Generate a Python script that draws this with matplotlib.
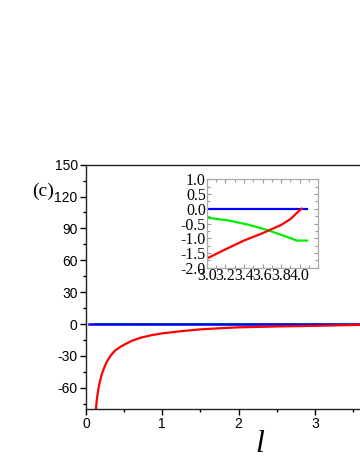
import matplotlib
matplotlib.use("Agg")
import matplotlib.pyplot as plt
from matplotlib.ticker import MultipleLocator

plt.rcParams["axes.unicode_minus"] = False

# ---- data ----
red_x = [0.125, 0.14, 0.16, 0.18, 0.20, 0.23, 0.27, 0.32, 0.38, 0.45, 0.5, 0.6,
         0.71, 0.85, 1.0, 1.25, 1.5, 1.75, 2.0, 2.5, 3.0, 3.2, 3.4, 3.6, 3.8,
         3.9, 4.0, 4.02]
red_y = [-85, -72, -62, -55, -49, -42.5, -36, -30, -25, -21.5, -19.5, -15.8,
         -13.0, -10.6, -8.8, -6.7, -5.0, -4.0, -3.1, -2.3, -1.69, -1.38, -1.08,
         -0.83, -0.55, -0.35, -0.05, 0.0]
green_x = [0.13, 1.0, 2.0, 3.0, 3.24, 3.46, 3.67, 3.86, 3.97, 4.08]
green_y = [-0.05, -0.1, -0.2, -0.30, -0.40, -0.55, -0.74, -0.95, -1.08, -1.08]
blue_x = [0.04, 4.08]
blue_y = [0.0, 0.0]

main_yticks = [-60, -30, 0, 30, 60, 90, 120, 150]
main_xticks = [0, 1, 2, 3]
inset_xticks = [3.0, 3.2, 3.4, 3.6, 3.8, 4.0]
inset_yticks = [-2.0, -1.5, -1.0, -0.5, 0.0, 0.5, 1.0]

W, H = 360, 466
fig = plt.figure(figsize=(W / 100, H / 100), dpi=100)

# main axes (extends beyond the right edge of the figure)
L, R, T, B = 86, 406.5, 164.7, 409
ax = fig.add_axes([L / W, 1 - B / H, (R - L) / W, (B - T) / H])
ax.plot(green_x, green_y, color="#00e000", lw=1.6)
ax.plot(blue_x, blue_y, color="#0000ff", lw=1.8)
ax.plot(red_x, red_y, color="#ff0000", lw=1.6)
ax.set_xlim(0, 4.2)
ax.set_ylim(-80, 150)
ax.set_xticks(main_xticks)
ax.set_yticks(main_yticks)
ax.xaxis.set_minor_locator(MultipleLocator(0.5))
ax.yaxis.set_minor_locator(MultipleLocator(15))
ax.tick_params(which="both", direction="out", top=False, right=False,
               labelsize=10, width=1.0)
ax.tick_params(which="major", length=4, pad=2)
ax.tick_params(which="minor", length=2.5)
for lab in ax.get_xticklabels() + ax.get_yticklabels():
    lab.set_family("Liberation Sans")
for s in ax.spines.values():
    s.set_linewidth(1.0)
    s.set_color("#222222")
ax.spines["right"].set_visible(False)
ax.set_xlabel("l", family="Liberation Serif", style="italic", fontsize=23,
              labelpad=0)
ax.xaxis.set_label_coords((260 - L) / (R - L), -0.085)

fig.text(43 / W, 1 - 191 / H, "(c)", family="Liberation Serif", fontsize=14,
         ha="center", va="center")

# inset
iL, iR, iT, iB = 206.7, 318.3, 179.3, 267.7
ins = fig.add_axes([iL / W, 1 - iB / H, (iR - iL) / W, (iB - iT) / H])
ins.plot(blue_x, blue_y, color="#0000ff", lw=1.6)
ins.plot(green_x, green_y, color="#00ee00", lw=1.6)
ins.plot(red_x, red_y, color="#ff0000", lw=1.6)
ins.set_xlim(3.0, 4.2)
ins.set_ylim(-2.0, 1.0)
ins.set_xticks(inset_xticks)
ins.set_yticks(inset_yticks)
ins.set_xticklabels([f"{v:.1f}" for v in inset_xticks])
ins.set_yticklabels([f"{v:.1f}" for v in inset_yticks])
ins.xaxis.set_minor_locator(MultipleLocator(0.1))
ins.yaxis.set_minor_locator(MultipleLocator(0.25))
ins.tick_params(which="both", direction="in", top=True, right=True,
                labelsize=11.5, color="#999999", width=0.8, pad=1)
ins.tick_params(which="major", length=3)
ins.tick_params(which="minor", length=2)
ins.tick_params(axis="y", pad=0.5)
ins.tick_params(axis="x", pad=0)
for lab in ins.get_xticklabels() + ins.get_yticklabels():
    lab.set_family("Liberation Serif")
for s in ins.spines.values():
    s.set_color("#aaaaaa")
    s.set_linewidth(0.9)

fig.savefig("out.png", dpi=100)
